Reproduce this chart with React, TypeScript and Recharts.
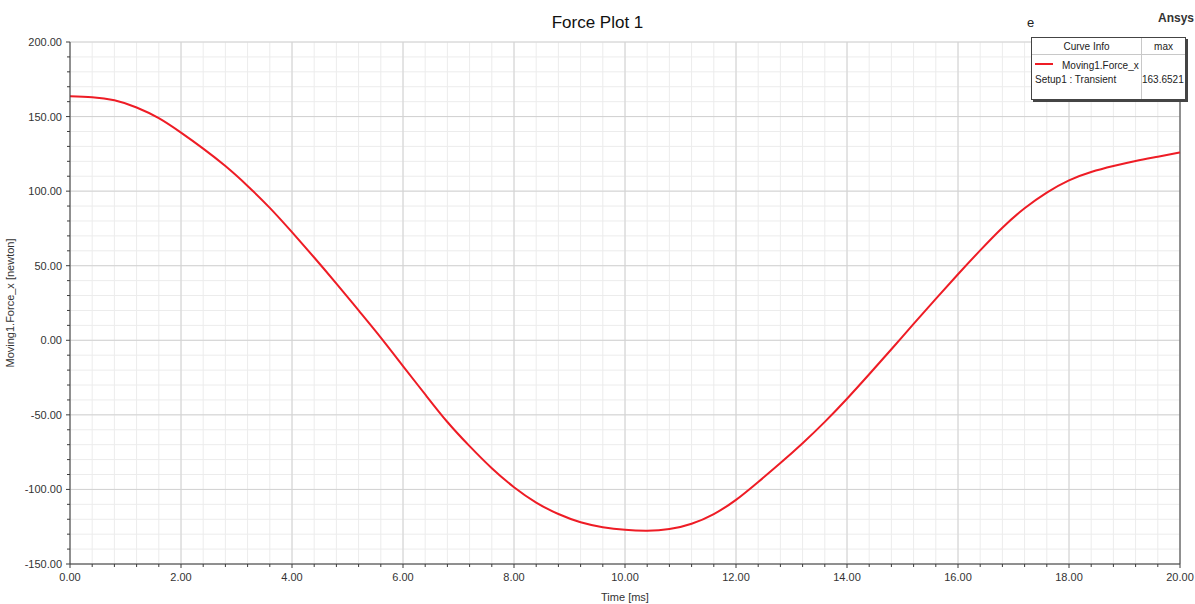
import React from 'react';
import {
  LineChart,
  Line,
  XAxis,
  YAxis,
  CartesianGrid,
  ReferenceLine,
  Label,
} from 'recharts';

// time samples [ms], every 0.4 ms
const timeMs = [
  0.0, 0.4, 0.8, 1.2, 1.6, 2.0, 2.4, 2.8, 3.2, 3.6, 4.0, 4.4, 4.8, 5.2, 5.6,
  6.0, 6.4, 6.8, 7.2, 7.6, 8.0, 8.4, 8.8, 9.2, 9.6, 10.0, 10.4, 10.8, 11.2,
  11.6, 12.0, 12.4, 12.8, 13.2, 13.6, 14.0, 14.4, 14.8, 15.2, 15.6, 16.0,
  16.4, 16.8, 17.2, 17.6, 18.0, 18.4, 18.8, 19.2, 19.6, 20.0,
];

// Moving1.Force_x [newton]
const forceX = [
  163.6521, 163.0, 160.9, 156.1, 148.9, 139.2, 128.5, 116.8, 103.5, 88.8,
  72.5, 55.5, 38.0, 20.0, 1.8, -17.3, -36.3, -54.8, -71.0, -85.8, -98.5,
  -108.8, -116.5, -122.0, -125.3, -127.1, -127.7, -126.6, -123.0, -116.5,
  -107.0, -95.0, -82.3, -69.0, -54.7, -39.2, -22.8, -6.0, 11.0, 27.8, 44.3,
  60.3, 75.5, 88.5, 99.0, 107.2, 112.8, 116.8, 120.2, 123.1, 126.0,
];

const xMajorTicks = [0, 2, 4, 6, 8, 10, 12, 14, 16, 18, 20];
const yMajorTicks = [-150, -100, -50, 0, 50, 100, 150, 200];
const xMinorTicks = Array.from({ length: 51 }, (_, i) => Number((i * 0.4).toFixed(1)));
const yMinorTicks = Array.from({ length: 36 }, (_, i) => -150 + i * 10);

const data = timeMs.map((t, i) => ({ t, force: forceX[i] }));
const maxForce = Math.max(...forceX).toFixed(4);

const FONT = 'Arial, "Liberation Sans", sans-serif';
const AXIS = '#3c3c3c';

const YTick = (props: any) => {
  const { x, y, payload } = props;
  const major = payload.value % 50 === 0;
  return (
    <g>
      <line x1={x - (major ? 4 : 3)} x2={x} y1={y} y2={y} stroke={AXIS} />
      {major && (
        <text
          x={x - 8}
          y={y}
          dy={4}
          textAnchor="end"
          fontSize={11}
          fontFamily={FONT}
          fill="#333"
        >
          {payload.value.toFixed(2)}
        </text>
      )}
    </g>
  );
};

const XTick = (props: any) => {
  const { x, y, payload } = props;
  const major = Math.abs(payload.value / 2 - Math.round(payload.value / 2)) < 1e-6;
  return (
    <g>
      <line x1={x} x2={x} y1={y} y2={y + (major ? 4 : 3)} stroke={AXIS} />
      {major && (
        <text
          x={x}
          y={y + 17}
          textAnchor="middle"
          fontSize={11}
          fontFamily={FONT}
          fill="#333"
        >
          {payload.value.toFixed(2)}
        </text>
      )}
    </g>
  );
};

const cell: React.CSSProperties = {
  fontFamily: FONT,
  fontSize: 10,
  color: '#222',
  position: 'absolute',
  whiteSpace: 'nowrap',
};

export default function App() {
  return (
    <div
      style={{
        position: 'absolute',
        left: 0,
        top: 0,
        width: 1195,
        height: 604,
        background: '#fff',
      }}
    >
      <LineChart
        width={1195}
        height={604}
        data={data}
        margin={{ top: 42, right: 15, bottom: 0, left: 10 }}
      >
        <CartesianGrid
          stroke="#ececec"
          verticalValues={xMinorTicks}
          horizontalValues={yMinorTicks}
        />
        <CartesianGrid
          stroke="#d2d2d2"
          verticalValues={xMajorTicks}
          horizontalValues={yMajorTicks}
        />
        <XAxis
          dataKey="t"
          type="number"
          domain={[0, 20]}
          ticks={xMinorTicks}
          interval={0}
          height={40}
          tickSize={0}
          tickMargin={0}
          tickLine={false}
          axisLine={{ stroke: AXIS }}
          tick={<XTick />}
        >
          <Label
            value="Time [ms]"
            position="insideBottom"
            offset={3}
            style={{ fontSize: 11, fontFamily: FONT, fill: '#333' }}
          />
        </XAxis>
        <YAxis
          type="number"
          domain={[-150, 200]}
          ticks={yMinorTicks}
          interval={0}
          width={60}
          tickSize={0}
          tickMargin={0}
          tickLine={false}
          axisLine={{ stroke: AXIS }}
          tick={<YTick />}
        >
          <Label
            value="Moving1.Force_x [newton]"
            angle={-90}
            position="insideLeft"
            offset={0}
            style={{
              fontSize: 11,
              fontFamily: FONT,
              fill: '#333',
              textAnchor: 'middle',
            }}
          />
        </YAxis>
        <ReferenceLine x={20} stroke={AXIS} />
        <Line
          type="natural"
          dataKey="force"
          stroke="#ee1c25"
          strokeWidth={2}
          dot={false}
          isAnimationActive={false}
        />
      </LineChart>

      <div
        style={{
          position: 'absolute',
          left: 0,
          width: 1195,
          top: 13,
          textAlign: 'center',
          fontFamily: FONT,
          fontSize: 17,
          color: '#111',
        }}
      >
        Force Plot 1
      </div>
      <div style={{ ...cell, left: 1027, top: 15, fontSize: 13 }}>e</div>
      <div
        style={{
          ...cell,
          left: 1158,
          top: 11,
          fontSize: 12,
          fontWeight: 'bold',
          color: '#333',
        }}
      >
        Ansys
      </div>

      <div
        style={{
          position: 'absolute',
          left: 1031,
          top: 37,
          width: 153,
          height: 61,
          background: '#fff',
          border: '1px solid #444',
          boxShadow: '2px 2px 0 #444',
        }}
      >
        <div
          style={{
            position: 'absolute',
            left: 0,
            top: 0,
            width: 153,
            height: 16,
            borderBottom: '1px solid #c8c8c8',
          }}
        />
        <div
          style={{
            position: 'absolute',
            left: 109,
            top: 0,
            width: 0,
            height: 61,
            borderLeft: '1px solid #c8c8c8',
          }}
        />
        <div style={{ ...cell, left: 0, width: 109, top: 3, textAlign: 'center' }}>
          Curve Info
        </div>
        <div style={{ ...cell, left: 110, width: 43, top: 3, textAlign: 'center' }}>
          max
        </div>
        <div
          style={{
            position: 'absolute',
            left: 3,
            top: 25,
            width: 18,
            height: 0,
            borderTop: '2px solid #ee1c25',
          }}
        />
        <div style={{ ...cell, left: 30, top: 22 }}>Moving1.Force_x</div>
        <div style={{ ...cell, left: 3, top: 36 }}>Setup1 : Transient</div>
        <div style={{ ...cell, left: 110, width: 41, top: 36, textAlign: 'right' }}>
          {maxForce}
        </div>
      </div>
    </div>
  );
}
